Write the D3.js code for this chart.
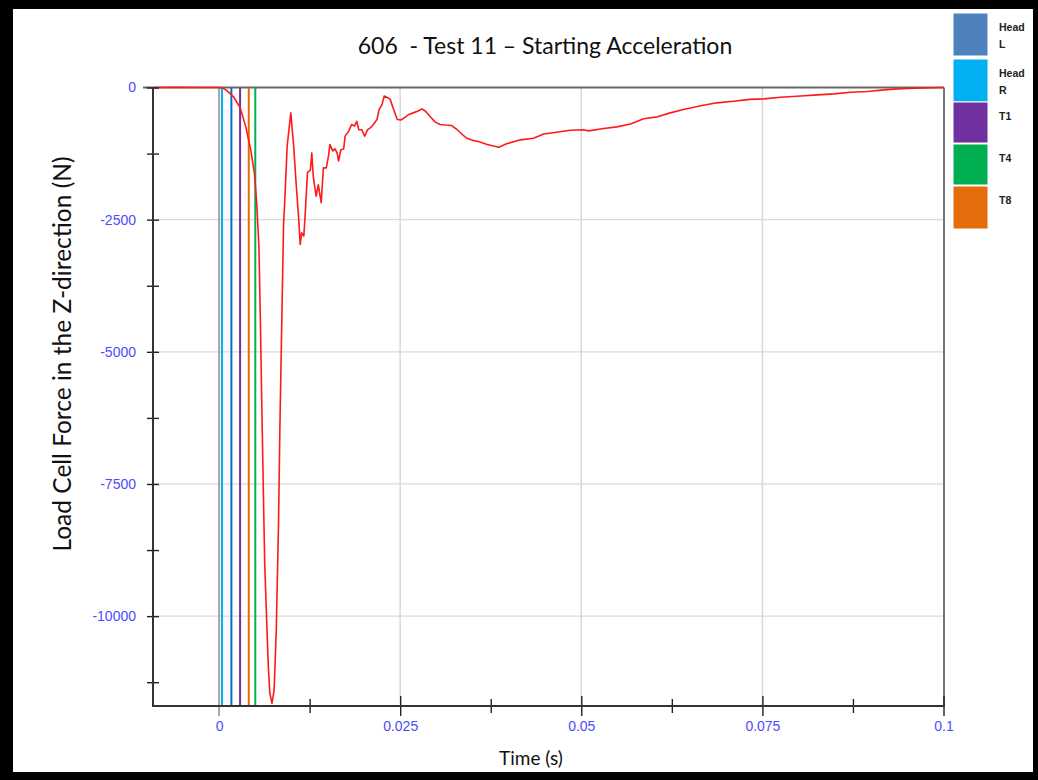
<!DOCTYPE html>
<html>
<head>
<meta charset="utf-8">
<script src="https://cdn.jsdelivr.net/npm/d3@7"></script>
<style>
  html, body { margin: 0; padding: 0; background: #000; }
  svg { display: block; }
</style>
</head>
<body>
<svg id="chart" width="1038" height="780"></svg>
<script>
// ---- Data ----
const times = [
  -0.009, -0.006, -0.003, 0.0, 0.0005, 0.001, 0.002, 0.0029, 0.0037, 0.0044,
  0.0049, 0.0052, 0.0055, 0.0057, 0.0059, 0.0061, 0.0063, 0.0066, 0.0068, 0.0070,
  0.0073, 0.0076, 0.0079, 0.0082, 0.0084, 0.0087, 0.0089, 0.0091, 0.0094, 0.0099,
  0.0103, 0.0106, 0.0110, 0.0112, 0.0114, 0.0117, 0.0119, 0.0122, 0.0126, 0.0128,
  0.0130, 0.0134, 0.0137, 0.0141, 0.0144, 0.0148, 0.0151, 0.0153, 0.0157, 0.0160,
  0.0163, 0.0165, 0.0168, 0.0172, 0.0174, 0.0179, 0.0183, 0.0187, 0.0190, 0.0193,
  0.0197, 0.0201, 0.0205, 0.0209, 0.0213, 0.0218, 0.0221, 0.0225, 0.0228, 0.0232,
  0.0236, 0.0241, 0.0246, 0.0251, 0.0256, 0.0262, 0.0268, 0.0274, 0.0280, 0.0285,
  0.0291, 0.0298, 0.0305, 0.0312, 0.0321, 0.0328, 0.0335, 0.0342, 0.0350, 0.0358,
  0.0370, 0.0386, 0.0397, 0.0416, 0.0434, 0.0448, 0.0466, 0.0485, 0.0503, 0.0510,
  0.0531, 0.0549, 0.0568, 0.0586, 0.0605, 0.0623, 0.0641, 0.0665, 0.0687, 0.0710,
  0.0733, 0.0752, 0.0775, 0.0803, 0.0826, 0.0849, 0.0872, 0.0895, 0.0918, 0.0931,
  0.0950, 0.0973, 0.1000
];
const forces = [
  0, 5, 0, 0, -10, -50, -175, -380, -750, -1200,
  -1650, -2200, -3000, -4400, -6000, -7550, -9000, -10200, -10950, -11450,
  -11650, -11400, -10250, -8300, -6400, -4100, -2600, -2050, -1110, -480,
  -1110, -1740, -2500, -2970, -2750, -2810, -2370, -1610, -1560, -1240,
  -1680, -2055, -1840, -2180, -1520, -1520, -1300, -1080, -1200, -1160,
  -1240, -1390, -1180, -1160, -920, -825, -700, -730, -640, -800,
  -800, -920, -800, -760, -700, -605, -415, -320, -160, -190,
  -220, -415, -605, -615, -570, -510, -480, -450, -405, -450,
  -545, -650, -700, -710, -720, -790, -880, -960, -1000, -1020,
  -1080, -1130, -1065, -990, -960, -880, -845, -810, -800, -820,
  -775, -745, -690, -590, -555, -480, -415, -345, -290, -260,
  -225, -215, -185, -160, -140, -120, -90, -75, -45, -30,
  -20, -10, 0
];

// vertical event markers (time in s)
const markerTimes  = [0.0004, 0.0017, 0.0029, 0.0041, 0.0050];
const markerColors = ["#00b0f0", "#0070c0", "#7030a0", "#e46c0a", "#00b050"];

// legend
const legendLabels = [["Head", "L"], ["Head", "R"], ["T1"], ["T4"], ["T8"]];
const legendColors = ["#4f81bd", "#00b0f0", "#7030a0", "#00b050", "#e46c0a"];

// ticks
const xTicks = [0, 0.025, 0.05, 0.075, 0.1];
const xTickLabels = ["0", "0.025", "0.05", "0.075", "0.1"];
const xMinorTicks = [0.0125, 0.0375, 0.0625, 0.0875];
const yTicks = [0, -2500, -5000, -7500, -10000];
const yTickLabels = ["0", "-2500", "-5000", "-7500", "-10000"];
const yMinorTicks = [-1250, -3750, -6250, -8750, -11250];

const titleText = "606  - Test 11 \u2013 Starting Acceleration";
const xTitle = "Time (s)";
const yTitle = "Load Cell Force in the Z-direction (N)";

// ---- Layout ----
const svg = d3.select("#chart");
const plot = { left: 153, right: 944, top: 87.5, bottom: 706 };

// frame
svg.append("rect").attr("x", 13).attr("y", 9).attr("width", 1020).attr("height", 763).attr("fill", "#fff");

const x = d3.scaleLinear().domain([-0.00912, 0.1]).range([plot.left, 943.5]);
const y = d3.scaleLinear().domain([-11700, 0]).range([plot.bottom, plot.top]);

const tickFont = "'Liberation Sans', Arial, sans-serif";
const labelFont = "Lato, 'Open Sans', sans-serif";
const tickColor = "#4b4bff";

// gridlines
svg.append("g").selectAll("line").data(yTicks.filter(d => d !== 0)).join("line")
  .attr("x1", plot.left).attr("x2", plot.right)
  .attr("y1", d => y(d)).attr("y2", d => y(d))
  .attr("stroke", "#d9d9d9").attr("stroke-width", 1.2);
svg.append("g").selectAll("line").data(xTicks.filter(d => d !== 0 && d !== 0.1)).join("line")
  .attr("x1", d => x(d)).attr("x2", d => x(d))
  .attr("y1", plot.top).attr("y2", plot.bottom)
  .attr("stroke", "#d9d9d9").attr("stroke-width", 1.5);
// zero time line
svg.append("line")
  .attr("x1", x(0)).attr("x2", x(0)).attr("y1", plot.top).attr("y2", plot.bottom + 10)
  .attr("stroke", "#a6a6a6").attr("stroke-width", 2);

// top & right borders
svg.append("line").attr("x1", plot.left - 10).attr("x2", plot.right)
  .attr("y1", plot.top).attr("y2", plot.top).attr("stroke", "#666").attr("stroke-width", 2);
svg.append("line").attr("x1", plot.right).attr("x2", plot.right)
  .attr("y1", plot.top).attr("y2", plot.bottom).attr("stroke", "#777").attr("stroke-width", 2);

// markers
svg.append("g").selectAll("line").data(markerTimes).join("line")
  .attr("x1", d => x(d)).attr("x2", d => x(d))
  .attr("y1", plot.top).attr("y2", plot.bottom)
  .attr("stroke", (d, i) => markerColors[i]).attr("stroke-width", 2);

// curve
const pts = times.map((t, i) => [t, forces[i]]);
svg.append("path").datum(pts)
  .attr("d", d3.line().x(d => x(d[0])).y(d => y(d[1])))
  .attr("fill", "none").attr("stroke", "#ff1a1a").attr("stroke-width", 1.6)
  .attr("stroke-linejoin", "round");

// left axis
const yAxis = svg.append("g").attr("transform", `translate(${plot.left},0)`)
  .call(d3.axisLeft(y).tickValues(yTicks).tickSize(0).tickFormat((d, i) => yTickLabels[i]));
yAxis.select(".domain").remove();
yAxis.selectAll("text").attr("x", -17).attr("font-family", tickFont).attr("font-size", 14).attr("fill", tickColor);
svg.append("g").attr("transform", `translate(${plot.left},0)`)
  .call(d3.axisLeft(y).tickValues(yTicks.concat(yMinorTicks)).tickSize(0).tickFormat(""))
  .call(g => g.select(".domain").remove())
  .selectAll(".tick line").attr("x1", -6).attr("x2", 6).attr("stroke", "#222").attr("stroke-width", 1.4);
svg.append("line").attr("x1", plot.left).attr("x2", plot.left)
  .attr("y1", plot.top).attr("y2", plot.bottom + 1).attr("stroke", "#333").attr("stroke-width", 2);

// bottom axis
const xAxis = svg.append("g").attr("transform", `translate(0,${plot.bottom})`)
  .call(d3.axisBottom(x).tickValues(xTicks).tickSize(0).tickFormat((d, i) => xTickLabels[i]));
xAxis.select(".domain").remove();
xAxis.selectAll("text").attr("y", 15).attr("font-family", tickFont).attr("font-size", 14).attr("fill", tickColor);
svg.append("g").attr("transform", `translate(0,${plot.bottom})`)
  .call(d3.axisBottom(x).tickValues(xTicks.filter(d => d !== 0)).tickSize(0).tickFormat(""))
  .call(g => g.select(".domain").remove())
  .selectAll(".tick line").attr("y1", -10).attr("y2", 10).attr("stroke", "#222").attr("stroke-width", 1.4);
svg.append("g").attr("transform", `translate(0,${plot.bottom})`)
  .call(d3.axisBottom(x).tickValues(xMinorTicks).tickSize(0).tickFormat(""))
  .call(g => g.select(".domain").remove())
  .selectAll(".tick line").attr("y1", -7).attr("y2", 7).attr("stroke", "#222").attr("stroke-width", 1.4);
svg.append("line").attr("x1", plot.left - 1).attr("x2", plot.right + 1)
  .attr("y1", plot.bottom).attr("y2", plot.bottom).attr("stroke", "#333").attr("stroke-width", 2);

// titles
svg.append("text").attr("x", 545).attr("y", 54).attr("text-anchor", "middle")
  .attr("font-family", labelFont).attr("font-size", 23).attr("fill", "#111")
  .style("white-space", "pre").text(titleText);
svg.append("text").attr("x", 531).attr("y", 765).attr("text-anchor", "middle")
  .attr("font-family", labelFont).attr("font-size", 19).attr("fill", "#111").text(xTitle);
svg.append("text").attr("transform", "translate(71,354) rotate(-90)").attr("text-anchor", "middle")
  .attr("font-family", labelFont).attr("font-size", 24.5).attr("fill", "#111").text(yTitle);

// legend
const legY = [13, 59, 102, 144, 186];
const legH = [43, 43, 41, 41, 43];
const leg = svg.append("g");
legendLabels.forEach((lab, i) => {
  leg.append("rect").attr("x", 953).attr("y", legY[i]).attr("width", 35).attr("height", legH[i])
    .attr("fill", legendColors[i]).attr("stroke", "#fff").attr("stroke-width", 1);
  lab.forEach((s, j) => {
    leg.append("text").attr("x", 999).attr("y", legY[i] + 18 + j * 17)
      .attr("font-family", "'Liberation Sans', Arial, sans-serif").attr("font-weight", "bold")
      .attr("font-size", 10.5).attr("fill", "#222").text(s);
  });
});
</script>
</body>
</html>
